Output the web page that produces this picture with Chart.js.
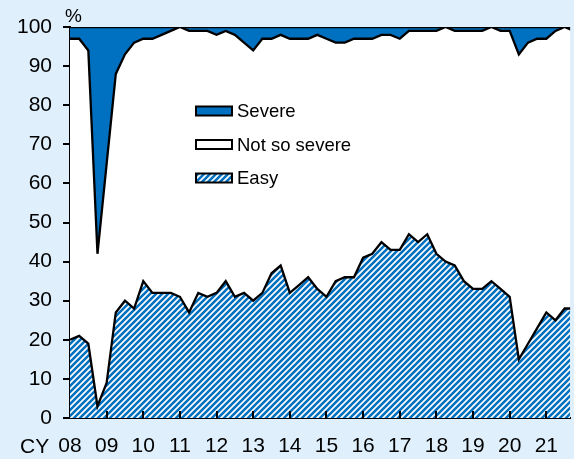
<!DOCTYPE html>
<html>
<head>
<meta charset="utf-8">
<script src="https://cdn.jsdelivr.net/npm/chart.js@4.4.0/dist/chart.umd.min.js"></script>
<style>
  html, body { margin: 0; padding: 0; background: #dff0fc; overflow: hidden; }
  canvas { display: block; }
</style>
</head>
<body>
<canvas id="myChart" width="574" height="459"></canvas>
<script>
// ----------------------------------------------------------
// data (quarterly, CY 08 Q1 onwards, % of answers)
const firstYear = 2008;
const yearLabels = ["08", "09", "10", "11", "12", "13", "14", "15", "16", "17", "18", "19", "20", "21"];
const seriesNames = ["Easy", "Not so severe", "Severe"];

const easy = [20, 21, 19, 3, 9, 27, 30, 28, 35, 32, 32, 32, 31, 27, 32, 31, 32, 35, 31, 32,
  30, 32, 37, 39, 32, 34, 36, 33, 31, 35, 36, 36, 41, 42, 45, 43, 43, 47, 45, 47,
  42, 40, 39, 35, 33, 33, 35, 33, 31, 15, 19, 23, 27, 25, 28, 28];
const notSoSevere = [77, 76, 75, 39, 56, 61, 63, 68, 62, 65, 66, 67, 69, 72, 67, 68, 66, 64, 67, 64,
  64, 65, 60, 59, 65, 63, 61, 65, 66, 61, 60, 61, 56, 55, 53, 55, 54, 52, 54, 52,
  57, 60, 60, 64, 66, 66, 65, 66, 68, 78, 77, 74, 70, 74, 72, 71];
const severe = [3, 3, 6, 58, 35, 12, 7, 4, 3, 3, 2, 1, 0, 1, 1, 1, 2, 1, 2, 4,
  6, 3, 3, 2, 3, 3, 3, 2, 3, 4, 4, 3, 3, 3, 2, 2, 3, 1, 1, 1,
  1, 0, 1, 1, 1, 1, 0, 1, 1, 7, 4, 3, 3, 1, 0, 1];
const yTicks = [0, 10, 20, 30, 40, 50, 60, 70, 80, 90, 100];

// ----------------------------------------------------------
const FONT = "'Liberation Sans', Arial, sans-serif";
const BLUE = "#0070c0";

// hatched fill for "Easy"
function makeHatch() {
  const c = document.createElement("canvas");
  c.width = 6;
  c.height = 6;
  const g = c.getContext("2d");
  g.fillStyle = "#ffffff";
  g.fillRect(0, 0, 6, 6);
  g.strokeStyle = BLUE;
  g.lineWidth = 2.6;
  g.beginPath();
  g.moveTo(-1, 7); g.lineTo(7, -1);
  g.moveTo(-4, 4); g.lineTo(4, -4);
  g.moveTo(2, 10); g.lineTo(10, 2);
  g.stroke();
  return g.createPattern(c, "repeat");
}

function toPoints(arr) {
  return arr.map((v, i) => ({ x: firstYear + i / 4, y: v }));
}

// ----------------------------------------------------------
// legend inside the plot + extra texts + inner x ticks
const extrasPlugin = {
  id: "extras",
  afterDraw(chart) {
    const ctx = chart.ctx;
    const xs = chart.scales.x;
    const area = chart.chartArea;
    ctx.save();

    // inward tick marks on the x axis
    ctx.strokeStyle = "#000";
    ctx.lineWidth = 2;
    yearLabels.forEach((lab, i) => {
      if (i === 0) return;
      const px = Math.round(xs.getPixelForValue(firstYear + i));
      ctx.beginPath();
      ctx.moveTo(px, area.bottom);
      ctx.lineTo(px, area.bottom - 7);
      ctx.stroke();
    });

    // legend, reverse order
    const rows = [2, 1, 0];
    rows.forEach((dsIndex, r) => {
      const ds = chart.data.datasets[dsIndex];
      const cy = 111 + r * 33.5;
      ctx.fillStyle = ds.backgroundColor;
      ctx.fillRect(196, cy - 4.5, 36, 9);
      ctx.strokeStyle = "#000";
      ctx.lineWidth = 2;
      ctx.strokeRect(196, cy - 4.5, 36, 9);
      ctx.fillStyle = "#000";
      ctx.font = "18.5px " + FONT;
      ctx.textBaseline = "middle";
      ctx.textAlign = "left";
      ctx.fillText(ds.label, 237, cy + 1);
    });

    // unit + CY
    ctx.font = "19px " + FONT;
    ctx.textAlign = "left";
    ctx.fillText("%", 65, 17);
    ctx.font = "21px " + FONT;
    ctx.fillText("CY", 20, 447);
    ctx.restore();
  },
};

// ----------------------------------------------------------
function createChart() {
  const ctx = document.querySelector("#myChart").getContext("2d");
  const hatch = makeHatch();
  const lineCommon = {
    borderColor: "#000",
    borderWidth: 2.3,
    pointRadius: 0,
    tension: 0,
  };

  return new Chart(ctx, {
    type: "line",
    data: {
      datasets: [
        Object.assign({ label: seriesNames[0], data: toPoints(easy), backgroundColor: hatch, fill: "origin" }, lineCommon),
        Object.assign({ label: seriesNames[1], data: toPoints(notSoSevere), backgroundColor: "#ffffff", fill: "-1" }, lineCommon),
        Object.assign({ label: seriesNames[2], data: toPoints(severe), backgroundColor: BLUE, fill: "-1" }, lineCommon),
      ],
    },
    options: {
      responsive: false,
      animation: false,
      devicePixelRatio: 1,
      layout: { padding: { top: 27, right: 0, left: 0, bottom: 0 } },
      plugins: { legend: { display: false }, tooltip: { enabled: false } },
      scales: {
        x: {
          type: "linear",
          min: firstYear,
          max: firstYear + 54.6 / 4,
          grid: { display: false, drawTicks: false },
          border: { display: true, color: "#000", width: 2 },
          ticks: {
            stepSize: 1,
            includeBounds: false,
            autoSkip: false,
            maxRotation: 0,
            padding: 16,
            color: "#000",
            font: { family: FONT, size: 21 },
            callback: (v) => yearLabels[Math.round(v - firstYear)],
          },
          afterFit: (scale) => { scale.height = 41; },
        },
        y: {
          stacked: true,
          min: 0,
          max: 100,
          afterBuildTicks: (scale) => { scale.ticks = yTicks.map((v) => ({ value: v })); },
          grid: { drawOnChartArea: false, drawTicks: true, tickLength: 7, color: "#000", lineWidth: 2 },
          border: { display: true, color: "#000", width: 2 },
          ticks: {
            padding: 11,
            color: "#000",
            font: { family: FONT, size: 21 },
          },
          afterFit: (scale) => { scale.width = 70; },
        },
      },
    },
    plugins: [extrasPlugin],
  });
}

window.addEventListener("load", () => {
  createChart();
});
</script>
</body>
</html>
